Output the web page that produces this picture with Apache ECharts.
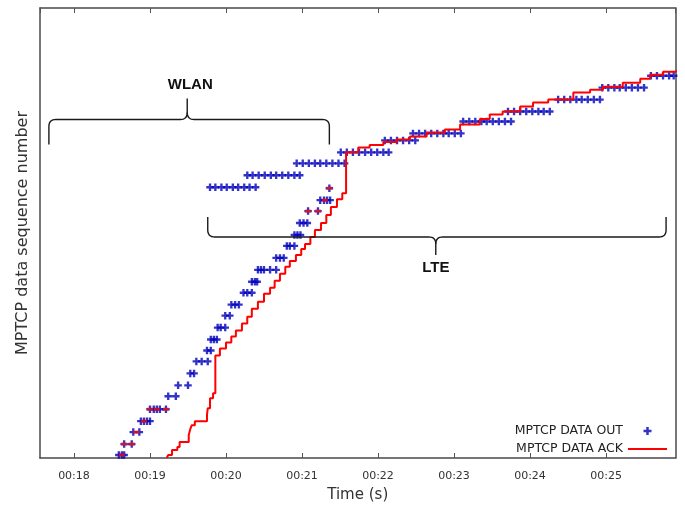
<!DOCTYPE html>
<html><head><meta charset="utf-8">
<script src="https://cdn.jsdelivr.net/npm/echarts@6/dist/echarts.min.js"></script>
<style>html,body{margin:0;padding:0;background:#fff}#c{width:685px;height:508px}</style>
</head><body><div id="c"></div>
<script>
// Tick labels of the time axis
const tickValues = [18, 19, 20, 21, 22, 23, 24, 25];
const tickLabels = ['00:18', '00:19', '00:20', '00:21', '00:22', '00:23', '00:24', '00:25'];

// MPTCP DATA OUT (time s, sequence units)
const outTime = [
  18.59, 18.63, 18.66,
  18.66, 18.76,
  18.78, 18.86,
  18.88, 18.92, 18.96, 19.00,
  19.00, 19.05, 19.09, 19.13, 19.21,
  19.24, 19.34,
  19.37, 19.50,
  19.53, 19.58,
  19.61, 19.68, 19.76,
  19.75, 19.80,
  19.80, 19.84, 19.88,
  19.89, 19.93, 19.99,
  19.99, 20.05,
  20.07, 20.12, 20.17,
  20.23, 20.28, 20.34,
  20.34, 20.38, 20.41,
  20.42, 20.46, 20.50, 20.58, 20.66,
  20.66, 20.71, 20.76,
  20.80, 20.84, 20.90,
  20.90, 20.94, 20.98,
  20.97, 21.02, 21.07,
  21.08, 21.21,
  21.24, 21.29, 21.33, 21.37,
  21.36,
  19.79, 19.86, 19.94, 20.01, 20.09, 20.16, 20.24, 20.31, 20.39,
  20.28, 20.35, 20.43, 20.51, 20.59, 20.66, 20.74, 20.82, 20.90, 20.97,
  20.93, 21.01, 21.09, 21.17, 21.24, 21.32, 21.40, 21.48, 21.56,
  21.51, 21.59, 21.67, 21.75, 21.83, 21.91, 21.99, 22.07, 22.14,
  22.09, 22.17, 22.25, 22.33, 22.41, 22.49,
  22.46, 22.54, 22.62, 22.70, 22.78, 22.86, 22.93, 23.01, 23.09,
  23.12, 23.20, 23.28, 23.36, 23.43, 23.51, 23.59, 23.67, 23.75,
  23.71, 23.79, 23.87, 23.95, 24.03, 24.11, 24.18, 24.26,
  24.37, 24.45, 24.53, 24.61, 24.68, 24.76, 24.84, 24.92,
  24.95, 25.03, 25.11, 25.18, 25.26, 25.34, 25.42, 25.50,
  25.59, 25.67, 25.75, 25.83, 25.89
];
const outSeq = [
  3, 3, 3,
  14, 14,
  26, 26,
  37, 37, 37, 37,
  49, 49, 49, 49, 49,
  62, 62,
  73, 73,
  85, 85,
  97, 97, 97,
  108, 108,
  119, 119, 119,
  131, 131, 131,
  143, 143,
  154, 154, 154,
  166, 166, 166,
  177, 177, 177,
  189, 189, 189, 189, 189,
  201, 201, 201,
  213, 213, 213,
  224, 224, 224,
  236, 236, 236,
  248, 248,
  259, 259, 259, 259,
  271,
  272, 272, 272, 272, 272, 272, 272, 272, 272,
  284, 284, 284, 284, 284, 284, 284, 284, 284, 284,
  296, 296, 296, 296, 296, 296, 296, 296, 296,
  307, 307, 307, 307, 307, 307, 307, 307, 307,
  319, 319, 319, 319, 319, 319,
  326, 326, 326, 326, 326, 326, 326, 326, 326,
  338, 338, 338, 338, 338, 338, 338, 338, 338,
  348, 348, 348, 348, 348, 348, 348, 348,
  360, 360, 360, 360, 360, 360, 360, 360,
  372, 372, 372, 372, 372, 372, 372, 372,
  384, 384, 384, 384, 384
];

// MPTCP DATA ACK (step line: time s, sequence units)
const ackTime = [
  19.22, 19.24, 19.29, 19.36, 19.39, 19.51, 19.53, 19.55, 19.59, 19.75, 19.76, 19.79, 19.83, 19.86,
  19.92, 20.00, 20.07, 20.13, 20.21, 20.28, 20.34, 20.42, 20.50, 20.58, 20.64, 20.71, 20.78, 20.84,
  20.92, 20.99, 21.04, 21.11, 21.17, 21.25, 21.32, 21.38, 21.46, 21.53, 21.58,
  21.74, 21.89, 22.07, 22.25, 22.42, 22.64, 22.88, 23.08, 23.34, 23.47, 23.64, 23.87, 24.04, 24.24,
  24.57, 24.79, 24.96, 25.22, 25.45, 25.58, 25.75, 25.92
];
const ackSeq = [
  0, 3, 8, 11, 16, 23, 29, 33, 37, 43, 50, 60, 65, 103,
  110, 116, 122, 128, 135, 142, 150, 157, 165, 171, 178, 185, 192, 198,
  204, 210, 215, 222, 229, 236, 244, 252, 260, 266, 307,
  312, 314.5, 317.5, 320, 323, 327, 330, 335, 340.5, 345, 348, 353, 357, 360,
  367, 370, 373, 377, 381, 385, 388, 389.5
];

// Red ACK marks inside the blue bursts
const markTime = [18.63, 18.66, 18.76, 18.82, 18.92, 19.00, 19.09, 19.21, 21.08, 21.21, 21.30, 21.36];
const markSeq = [3, 14, 14, 26, 37, 49, 49, 49, 248, 248, 259, 271];

// Annotation braces (data coordinates)
const wlanBrace = { x1: 17.67, x2: 21.36, xm: 19.49, yEnd: 315, yH: 340, yTip: 361, label: 'WLAN', labelX: 19.53, labelY: 375 };
const lteBrace = { x1: 19.76, x2: 25.79, xm: 22.76, yEnd: 242, yH: 222, yTip: 204, label: 'LTE', labelX: 22.76, labelY: 191 };

const plusPath = 'path://M2.4,0H4.6V2.4H7V4.6H4.6V7H2.4V4.6H0V2.4H2.4Z';
const linePath = 'path://M0,0H39V2H0Z';
const FONT = 'DejaVu Sans';

const chart = echarts.init(document.getElementById('c'), null, { renderer: 'canvas' });

function tickFmt(v) {
  const r = Math.round(v);
  if (Math.abs(v - r) > 1e-6) return '';
  const i = tickValues.indexOf(r);
  return i >= 0 ? tickLabels[i] : '';
}

const frame = { color: '#4a4a4a', width: 1.5 };
const xMin = 17.553, xMax = 25.914;

chart.setOption({
  animation: false,
  backgroundColor: '#fff',
  grid: { left: 40, right: 9.5, top: 8, bottom: 48, containLabel: false },
  legend: {
    orient: 'vertical',
    right: 18,
    top: 424.5,
    padding: 0,
    align: 'right',
    itemWidth: 39,
    itemHeight: 8,
    itemGap: 5,
    selectedMode: false,
    symbolKeepAspect: true,
    textStyle: { fontSize: 12.5, color: '#222', fontFamily: FONT },
    data: [
      { name: 'MPTCP DATA OUT', icon: plusPath },
      { name: 'MPTCP DATA ACK', icon: linePath }
    ]
  },
  xAxis: [
    {
      type: 'value', min: xMin, max: xMax, minInterval: 1, maxInterval: 1, position: 'bottom',
      axisLine: { onZero: false, lineStyle: frame },
      axisTick: { inside: true, length: 5, lineStyle: { color: '#555', width: 1 } },
      axisLabel: { formatter: tickFmt, fontSize: 11, color: '#333', margin: 13, fontFamily: FONT, showMinLabel: false, showMaxLabel: false },
      splitLine: { show: false },
      name: 'Time (s)', nameLocation: 'middle', nameGap: 30,
      nameTextStyle: { fontSize: 15, color: '#333', fontFamily: FONT }
    },
    {
      type: 'value', min: xMin, max: xMax, minInterval: 1, maxInterval: 1, position: 'top',
      axisLine: { onZero: false, lineStyle: frame },
      axisTick: { inside: true, length: 5, lineStyle: { color: '#555', width: 1 } },
      axisLabel: { show: false },
      splitLine: { show: false }
    }
  ],
  yAxis: [
    {
      type: 'value', min: 0, max: 452, position: 'left',
      axisLine: { show: true, onZero: false, lineStyle: frame },
      axisTick: { show: false }, axisLabel: { show: false }, splitLine: { show: false },
      name: 'MPTCP data sequence number', nameLocation: 'middle', nameGap: 9,
      nameTextStyle: { fontSize: 16, color: '#333', fontFamily: FONT }
    },
    {
      type: 'value', min: 0, max: 452, position: 'right',
      axisLine: { show: true, onZero: false, lineStyle: frame },
      axisTick: { show: false }, axisLabel: { show: false }, splitLine: { show: false }
    }
  ],
  series: [
    {
      name: 'MPTCP DATA OUT', type: 'scatter', xAxisIndex: 0, yAxisIndex: 0,
      symbol: plusPath, symbolSize: 7.5,
      itemStyle: { color: '#0000bb' },
      data: outTime.map((t, i) => [t, outSeq[i]]),
      z: 2
    },
    {
      name: 'MPTCP DATA ACK', type: 'line', xAxisIndex: 0, yAxisIndex: 0,
      step: 'end', symbol: 'none', showSymbol: false,
      itemStyle: { color: '#ff0000' },
      lineStyle: { color: '#ff0000', width: 2 },
      data: ackTime.map((t, i) => [t, ackSeq[i]]),
      z: 3
    },
    {
      name: 'ack-marks', type: 'scatter', xAxisIndex: 0, yAxisIndex: 0,
      symbol: 'rect', symbolSize: [6, 3],
      itemStyle: { color: '#ee1111' },
      data: markTime.map((t, i) => [t, markSeq[i]]),
      z: 4
    }
  ]
});

function px(t, v) { return chart.convertToPixel({ gridIndex: 0 }, [t, v]); }

function quad(p0, c, p1, out) {
  for (let k = 1; k <= 8; k++) {
    const s = k / 8, u = 1 - s;
    out.push([u * u * p0[0] + 2 * u * s * c[0] + s * s * p1[0], u * u * p0[1] + 2 * u * s * c[1] + s * s * p1[1]]);
  }
}

function braceElements(b) {
  const a = px(b.x1, b.yEnd), c = px(b.x2, b.yEnd), m = px(b.xm, b.yH), tip = px(b.xm, b.yTip), lab = px(b.labelX, b.labelY);
  const x1 = a[0], x2 = c[0], xm = m[0], yE = a[1], yH = m[1], yT = tip[1];
  const s = Math.sign(yE - yH), r = 7;
  const left = [[x1, yE], [x1, yH + s * r]];
  quad([x1, yH + s * r], [x1, yH], [x1 + r, yH], left);
  left.push([xm - r, yH]);
  quad([xm - r, yH], [xm, yH], [xm, yH - s * r], left);
  left.push([xm, yT]);
  const right = [[xm, yH - s * r]];
  quad([xm, yH - s * r], [xm, yH], [xm + r, yH], right);
  right.push([x2 - r, yH]);
  quad([x2 - r, yH], [x2, yH], [x2, yH + s * r], right);
  right.push([x2, yE]);
  const ls = { stroke: '#1a1a1a', fill: null, lineWidth: 1.4 };
  return [
    { type: 'polyline', shape: { points: left }, style: ls, z: 10 },
    { type: 'polyline', shape: { points: right }, style: ls, z: 10 },
    { type: 'text', x: lab[0], y: lab[1], style: { text: b.label, align: 'center', verticalAlign: 'middle', font: 'bold 15px "Liberation Sans", Arial, sans-serif', fill: '#111' }, z: 10 }
  ];
}

chart.setOption({ graphic: braceElements(wlanBrace).concat(braceElements(lteBrace)) });
</script>
</body></html>
